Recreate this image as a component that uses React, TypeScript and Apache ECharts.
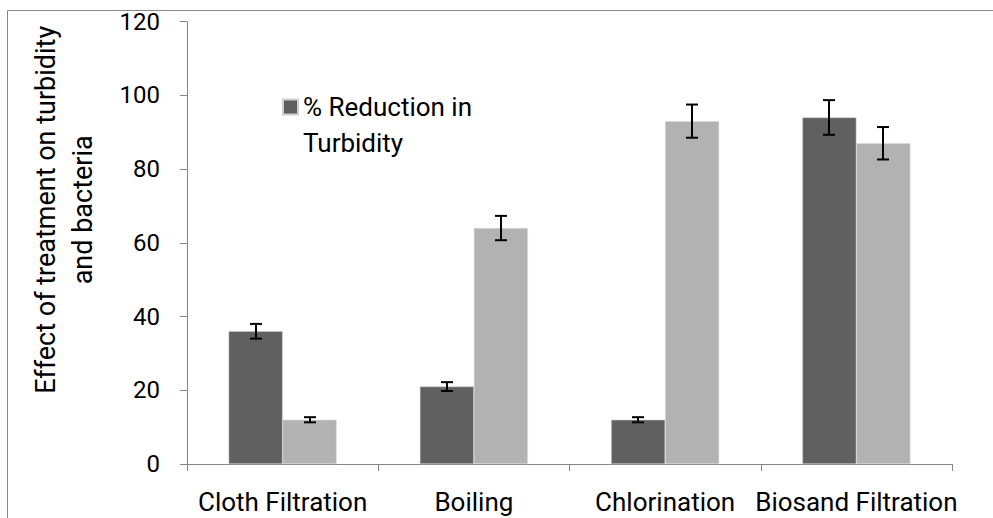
import React, { useEffect, useRef } from "react";
import * as echarts from "echarts";

const categories = ["Cloth Filtration", "Boiling", "Chlorination", "Biosand Filtration"];
const turbidity = [36, 21, 12, 94];
const turbidityErr = [2, 1.2, 0.7, 4.7];
const bacteria = [12, 64, 93, 87];
const bacteriaErr = [0.7, 3.3, 4.5, 4.4];
const seriesNames = ["% Reduction in Turbidity", "% Reduction in Bacteria"];
const yTicks = [0, 20, 40, 60, 80, 100, 120];

const FONT = "Roboto, 'Liberation Sans', sans-serif";
const BAR_W = 54;

function errorSeries(values: number[], errs: number[], offset: number) {
  return {
    type: "custom",
    silent: true,
    z: 10,
    data: values.map((v, i) => [i, v, errs[i]]),
    renderItem: (params: any, api: any) => {
      const i = api.value(0);
      const v = api.value(1);
      const e = api.value(2);
      const top = api.coord([i, v + e]);
      const bot = api.coord([i, v - e]);
      const x = Math.round(top[0] + offset);
      const cap = 6;
      const style = { stroke: "#000", lineWidth: 2 };
      return {
        type: "group",
        children: [
          { type: "line", shape: { x1: x, y1: top[1], x2: x, y2: bot[1] }, style },
          { type: "line", shape: { x1: x - cap, y1: top[1], x2: x + cap, y2: top[1] }, style },
          { type: "line", shape: { x1: x - cap, y1: bot[1], x2: x + cap, y2: bot[1] }, style },
        ],
      };
    },
  };
}

export default function App() {
  const ref = useRef<HTMLDivElement>(null);
  useEffect(() => {
    if (!ref.current) return;
    const chart = echarts.init(ref.current, null, { renderer: "svg" });
    chart.setOption({
      animation: false,
      textStyle: { fontFamily: FONT },
      graphic: [
        {
          type: "rect",
          shape: { x: 7.5, y: 10.5, width: 1100, height: 700 },
          style: { fill: "none", stroke: "#878787", lineWidth: 1 },
          silent: true,
        },
      ],
      grid: { left: 187, top: 21.6, right: 41, bottom: 54 },
      legend: {
        data: [seriesNames[0]],
        left: 277,
        top: 48,
        itemWidth: 15,
        itemHeight: 15,
        icon: "rect",
        formatter: () => "\n% Reduction in\nTurbidity",
        textStyle: {
          fontFamily: FONT,
          fontSize: 26,
          color: "#000",
          lineHeight: 36,
        },
      },
      xAxis: {
        type: "category",
        data: categories,
        axisLine: { lineStyle: { color: "#878787", width: 1 } },
        axisTick: { show: true, length: 7, lineStyle: { color: "#878787" } },
        axisLabel: { fontFamily: FONT, fontSize: 26, color: "#000", margin: 25, interval: 0 },
      },
      yAxis: {
        type: "value",
        min: 0,
        max: 120,
        interval: 20,
        name: "Effect of treatment on turbidity\nand bacteria",
        nameLocation: "middle",
        nameGap: 86,
        nameRotate: 90,
        nameTextStyle: {
          fontFamily: FONT,
          fontSize: 27,
          color: "#000",
          lineHeight: 37,
          padding: [0, 0, 0, 66],
        },
        axisLine: { show: true, lineStyle: { color: "#878787", width: 1 } },
        axisTick: { show: true, length: 7, lineStyle: { color: "#878787" } },
        axisLabel: {
          fontFamily: FONT,
          fontSize: 24,
          color: "#000",
          margin: 27,
          formatter: (v: number) => (yTicks.includes(v) ? String(v) : ""),
        },
        splitLine: { show: false },
      },
      series: [
        {
          name: seriesNames[0],
          type: "bar",
          data: turbidity,
          barWidth: BAR_W,
          barGap: "0%",
          itemStyle: { color: "#606060", borderColor: "#d0d0d0", borderWidth: 0.5 },
        },
        {
          name: seriesNames[1],
          type: "bar",
          data: bacteria,
          barWidth: BAR_W,
          barGap: "0%",
          itemStyle: { color: "#b2b2b2", borderColor: "#dcdcdc", borderWidth: 0.5 },
        },
        errorSeries(turbidity, turbidityErr, -BAR_W / 2),
        errorSeries(bacteria, bacteriaErr, BAR_W / 2),
      ],
    });
    return () => chart.dispose();
  }, []);
  return (
    <div
      ref={ref}
      style={{ position: "fixed", left: 0, top: 0, width: 993, height: 518, background: "#fff" }}
    />
  );
}
